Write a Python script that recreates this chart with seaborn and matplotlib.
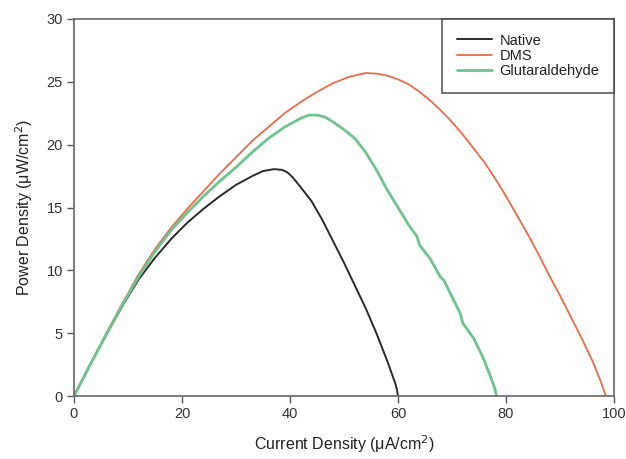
import matplotlib
matplotlib.use("Agg")
import matplotlib.pyplot as plt
import seaborn as sns
import pandas as pd

native_x = [0, 3, 6, 9, 12, 15, 18, 21, 24, 27, 30, 33, 35, 37, 38.5, 39.5, 40.5, 42, 44, 46, 48, 50, 52, 54, 56, 58, 59, 59.5, 59.8, 60]
native_y = [0, 2.5, 4.9, 7.2, 9.3, 11.0, 12.5, 13.8, 14.9, 15.9, 16.8, 17.5, 17.9, 18.05, 18.0, 17.8, 17.4, 16.6, 15.5, 14.0, 12.3, 10.6, 8.8, 7.0, 5.0, 2.8, 1.6, 1.0, 0.5, 0]

dms_x = [0, 3, 6, 9, 12, 15, 18, 21, 24, 27, 30, 33, 36, 39, 42, 45, 48, 51, 54, 56, 58, 60, 62, 64, 66, 68, 70, 72, 74, 76, 78, 80, 82, 84, 86, 88, 90, 92, 94, 96, 97.5, 98.5]
dms_y = [0, 2.5, 5.0, 7.4, 9.7, 11.7, 13.4, 14.9, 16.3, 17.7, 19.0, 20.3, 21.4, 22.5, 23.4, 24.2, 24.9, 25.4, 25.7, 25.65, 25.5, 25.2, 24.8, 24.2, 23.5, 22.7, 21.8, 20.8, 19.7, 18.6, 17.3, 15.9, 14.4, 12.9, 11.3, 9.6, 8.0, 6.3, 4.6, 2.8, 1.2, 0]

glut_x = [0, 3, 6, 9, 12, 15, 18, 21, 24, 27, 30, 33, 36, 39, 42, 43.5, 45, 46.5, 48, 50, 52, 54, 56, 58, 60, 62, 63.5, 64, 66, 67.8, 68.5, 70, 71.5, 72, 74, 75.7, 77, 78, 78.2]
glut_y = [0, 2.5, 4.9, 7.3, 9.5, 11.5, 13.2, 14.6, 15.9, 17.1, 18.2, 19.4, 20.5, 21.4, 22.1, 22.35, 22.35, 22.2, 21.8, 21.2, 20.5, 19.4, 18.0, 16.4, 15.0, 13.6, 12.7, 12.0, 10.9, 9.5, 9.2, 7.9, 6.6, 5.8, 4.6, 3.1, 1.7, 0.5, 0]

series_names = ["Native", "DMS", "Glutaraldehyde"]
colors = ["#2a2a2a", "#ec6a45", "#6cc48e"]
widths = [1.4, 1.3, 2.0]

frames = []
for name, xs, ys in zip(series_names, [native_x, dms_x, glut_x], [native_y, dms_y, glut_y]):
    frames.append(pd.DataFrame({"x": xs, "y": ys, "series": name}))
df = pd.concat(frames, ignore_index=True)

sns.set_style("white")
plt.rcParams["font.family"] = ["Liberation Sans", "DejaVu Sans"]

fig = plt.figure(figsize=(6.26, 4.59), dpi=100)
ax = fig.add_axes([74 / 626, 63 / 459, 540 / 626, 377 / 459])

for name, c, w in zip(series_names, colors, widths):
    sub = df[df["series"] == name]
    sns.lineplot(data=sub, x="x", y="y", sort=False, color=c, linewidth=w, ax=ax, label=name, estimator=None)

ax.set_xlim(0, 100)
ax.set_ylim(0, 30)
ax.set_xticks([0, 20, 40, 60, 80, 100])
ax.set_yticks([0, 5, 10, 15, 20, 25, 30])
ax.tick_params(axis="both", direction="out", length=5, width=1, color="#555555", labelsize=10.5, labelcolor="#333333",
               left=True, bottom=True, top=False, right=False, pad=3)
for s in ax.spines.values():
    s.set_color("#666666")
    s.set_linewidth(1.2)
    s.set_visible(True)

ax.set_xlabel("Current Density (\u03bcA/cm$^2$)", fontsize=11.5, color="#222222", labelpad=9)
ax.set_ylabel("Power Density (\u03bcW/cm$^2$)", fontsize=11.5, color="#222222", labelpad=8)

leg = ax.legend(loc="upper right", bbox_to_anchor=(1.0, 1.0), frameon=True, fancybox=False, fontsize=10.5,
                borderaxespad=0, handlelength=2.4, labelspacing=0.08, borderpad=1.0, handletextpad=0.55)
leg.get_frame().set_edgecolor("#333333")
leg.get_frame().set_linewidth(1.2)
for t in leg.get_texts():
    t.set_color("#222222")

fig.savefig("out.png", dpi=100)
